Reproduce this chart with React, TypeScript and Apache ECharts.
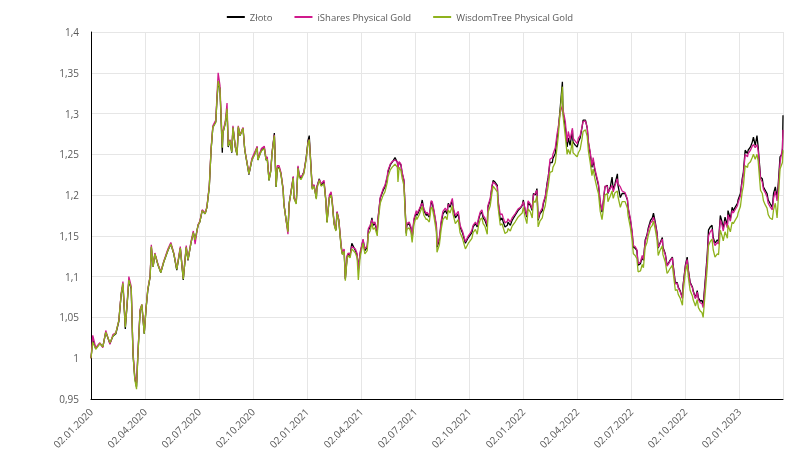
import React, { useEffect, useRef } from 'react';
import * as echarts from 'echarts';

const SERIES_NAMES = ['Złoto', 'iShares Physical Gold', 'WisdomTree Physical Gold'];
const SERIES_COLORS = ['#000000', '#d0198c', '#8fb21d'];

const QUARTER_LABELS = [
  '02.01.2020', '02.04.2020', '02.07.2020', '02.10.2020',
  '02.01.2021', '02.04.2021', '02.07.2021', '02.10.2021',
  '02.01.2022', '02.04.2022', '02.07.2022', '02.10.2022',
  '02.01.2023',
];
// days from 02.01.2020 to 02.01.2023 split in 12 quarters
const QUARTER_DAYS = 1096 / 12;

const Y_MIN = 0.95;
const Y_MAX = 1.4;
const Y_STEP = 0.05;

// days since 02.01.2020
const DAYS = [
  0,3,8,15,20,25,32,37,42,47,
  51,54,58,61,64,68,71,74,77,79,
  83,86,90,93,96,100,102,105,108,113,
  118,123,130,135,140,145,151,156,161,164,
  169,173,176,181,184,188,193,196,200,203,
  206,211,213,215,218,222,223,227,230,232,
  235,238,240,244,247,249,252,257,260,266,
  267,272,277,281,282,288,293,296,298,301,
  304,306,310,313,315,318,321,325,326,330,
  333,335,338,342,343,347,350,352,355,359,
  360,364,367,369,372,374,377,381,382,386,
  389,394,397,399,403,406,408,411,414,416,
  419,423,425,428,430,433,435,438,441,447,
  450,452,455,460,463,467,469,472,475,477,
  480,484,485,489,494,497,501,502,506,509,
  514,518,519,521,524,526,529,533,534,538,
  541,543,546,550,551,555,558,560,563,567,
  568,572,575,577,580,584,585,589,592,595,
  599,602,604,607,611,612,616,621,624,628,
  633,638,641,644,646,650,653,655,658,661,
  663,666,670,671,675,678,680,683,687,688,
  692,695,697,700,704,705,709,712,717,722,
  726,729,731,734,737,739,743,746,748,751,
  754,756,759,763,765,768,771,773,776,780,
  781,785,788,790,793,797,798,802,805,807,
  810,814,815,819,822,824,827,830,832,836,
  839,841,844,847,849,852,856,858,861,864,
  866,869,873,874,878,881,883,886,890,891,
  895,898,903,907,908,912,915,917,920,923,
  925,929,932,934,937,940,942,946,949,951,
  954,957,959,962,966,967,971,974,976,979,
  983,984,988,991,993,996,1000,1001,1005,1008,
  1010,1013,1017,1018,1022,1025,1027,1030,1033,1035,
  1039,1042,1044,1047,1050,1052,1055,1059,1061,1064,
  1067,1069,1072,1076,1077,1081,1084,1086,1089,1093,
  1094,1098,1101,1103,1106,1110,1111,1115,1118,1120,
  1123,1126,1128,1132,1135,1137,1140,1143,1145,1148,
  1152,1154,1157,1160,1162,1165,1169,1170,
];

const ZLOTO = [
  1.000,1.022,1.012,1.018,1.014,1.032,1.018,1.027,1.030,1.045,
  1.078,1.090,1.036,1.065,1.095,1.085,1.005,0.976,0.965,1.000,
  1.058,1.065,1.030,1.060,1.083,1.100,1.136,1.112,1.128,1.115,
  1.105,1.118,1.132,1.140,1.128,1.108,1.135,1.096,1.136,1.120,
  1.141,1.154,1.145,1.163,1.167,1.181,1.177,1.185,1.210,1.255,
  1.283,1.290,1.318,1.337,1.331,1.252,1.276,1.288,1.305,1.259,
  1.267,1.252,1.283,1.259,1.249,1.283,1.273,1.282,1.255,1.230,
  1.225,1.243,1.251,1.259,1.243,1.255,1.258,1.243,1.245,1.218,
  1.230,1.251,1.276,1.210,1.233,1.234,1.227,1.206,1.190,1.169,
  1.156,1.190,1.203,1.222,1.197,1.190,1.234,1.224,1.220,1.227,
  1.228,1.247,1.267,1.273,1.234,1.208,1.212,1.196,1.210,1.220,
  1.212,1.216,1.194,1.167,1.197,1.202,1.190,1.165,1.157,1.179,
  1.169,1.136,1.128,1.132,1.097,1.124,1.128,1.126,1.141,1.132,
  1.126,1.110,1.128,1.145,1.132,1.136,1.157,1.161,1.172,1.163,
  1.165,1.154,1.169,1.196,1.206,1.210,1.222,1.228,1.237,1.240,
  1.246,1.240,1.235,1.240,1.237,1.227,1.218,1.153,1.163,1.165,
  1.159,1.147,1.169,1.179,1.175,1.181,1.187,1.194,1.181,1.175,
  1.177,1.173,1.191,1.190,1.179,1.161,1.136,1.145,1.165,1.177,
  1.181,1.177,1.190,1.185,1.194,1.184,1.172,1.177,1.161,1.154,
  1.141,1.148,1.151,1.154,1.161,1.165,1.161,1.169,1.177,1.179,
  1.172,1.169,1.161,1.185,1.194,1.210,1.218,1.216,1.212,1.194,
  1.169,1.172,1.167,1.161,1.163,1.167,1.163,1.169,1.175,1.181,
  1.184,1.187,1.194,1.181,1.173,1.191,1.187,1.181,1.202,1.200,
  1.208,1.169,1.177,1.181,1.190,1.197,1.214,1.222,1.240,1.240,
  1.245,1.251,1.270,1.280,1.304,1.339,1.302,1.283,1.259,1.270,
  1.261,1.280,1.265,1.261,1.259,1.265,1.270,1.282,1.292,1.292,
  1.282,1.264,1.251,1.234,1.243,1.230,1.218,1.212,1.190,1.179,
  1.190,1.210,1.212,1.202,1.210,1.222,1.206,1.214,1.226,1.212,
  1.197,1.202,1.202,1.194,1.184,1.169,1.153,1.136,1.135,1.132,
  1.114,1.116,1.124,1.120,1.145,1.151,1.159,1.169,1.172,1.178,
  1.167,1.154,1.135,1.141,1.148,1.136,1.128,1.114,1.116,1.120,
  1.124,1.116,1.092,1.093,1.087,1.083,1.074,1.089,1.114,1.124,
  1.108,1.093,1.087,1.083,1.074,1.083,1.074,1.070,1.071,1.065,
  1.100,1.128,1.157,1.161,1.163,1.148,1.141,1.145,1.143,1.175,
  1.167,1.159,1.173,1.163,1.181,1.171,1.185,1.181,1.185,1.190,
  1.194,1.202,1.220,1.228,1.255,1.251,1.255,1.259,1.265,1.271,
  1.261,1.273,1.259,1.222,1.220,1.210,1.206,1.202,1.194,1.190,
  1.185,1.202,1.210,1.197,1.214,1.247,1.251,1.298,
];

const ISHARES = [
  1.000,1.028,1.013,1.019,1.013,1.034,1.017,1.029,1.031,1.046,
  1.080,1.094,1.040,1.067,1.100,1.088,1.008,0.978,0.970,1.002,
  1.060,1.066,1.032,1.061,1.085,1.101,1.139,1.113,1.129,1.116,
  1.106,1.119,1.134,1.142,1.129,1.110,1.137,1.098,1.138,1.121,
  1.143,1.156,1.140,1.164,1.168,1.182,1.178,1.186,1.212,1.257,
  1.285,1.292,1.322,1.350,1.335,1.262,1.278,1.290,1.313,1.262,
  1.268,1.255,1.285,1.260,1.250,1.285,1.274,1.283,1.256,1.231,
  1.226,1.245,1.253,1.260,1.245,1.257,1.260,1.245,1.247,1.220,
  1.231,1.252,1.274,1.212,1.236,1.236,1.228,1.207,1.190,1.168,
  1.152,1.188,1.204,1.223,1.198,1.191,1.236,1.225,1.222,1.226,
  1.229,1.246,1.265,1.268,1.235,1.210,1.213,1.198,1.211,1.219,
  1.214,1.218,1.195,1.168,1.200,1.204,1.192,1.166,1.158,1.180,
  1.170,1.138,1.130,1.134,1.098,1.126,1.129,1.127,1.137,1.134,
  1.128,1.108,1.130,1.146,1.134,1.138,1.159,1.163,1.170,1.165,
  1.167,1.156,1.170,1.197,1.208,1.212,1.224,1.230,1.238,1.241,
  1.243,1.241,1.232,1.241,1.238,1.228,1.219,1.155,1.165,1.167,
  1.161,1.149,1.171,1.181,1.177,1.183,1.188,1.190,1.183,1.177,
  1.179,1.175,1.193,1.192,1.181,1.163,1.138,1.148,1.168,1.180,
  1.184,1.180,1.188,1.188,1.196,1.186,1.175,1.180,1.163,1.156,
  1.143,1.150,1.153,1.157,1.163,1.167,1.163,1.171,1.179,1.182,
  1.175,1.172,1.164,1.187,1.196,1.212,1.216,1.214,1.210,1.195,
  1.176,1.177,1.172,1.166,1.168,1.171,1.167,1.172,1.177,1.183,
  1.185,1.188,1.192,1.183,1.175,1.193,1.189,1.183,1.200,1.202,
  1.206,1.171,1.179,1.184,1.192,1.198,1.212,1.220,1.244,1.246,
  1.250,1.258,1.275,1.283,1.300,1.310,1.305,1.290,1.265,1.278,
  1.268,1.282,1.270,1.266,1.263,1.270,1.273,1.283,1.290,1.291,
  1.283,1.266,1.253,1.236,1.246,1.232,1.220,1.214,1.192,1.181,
  1.192,1.211,1.211,1.203,1.208,1.212,1.204,1.212,1.220,1.214,
  1.210,1.205,1.203,1.195,1.186,1.171,1.155,1.138,1.137,1.133,
  1.116,1.118,1.126,1.121,1.143,1.150,1.157,1.166,1.168,1.173,
  1.165,1.153,1.136,1.140,1.146,1.135,1.127,1.113,1.115,1.119,
  1.123,1.115,1.091,1.092,1.086,1.082,1.073,1.088,1.113,1.121,
  1.107,1.092,1.086,1.082,1.073,1.081,1.072,1.068,1.067,1.062,
  1.096,1.124,1.150,1.155,1.158,1.145,1.138,1.142,1.140,1.170,
  1.163,1.156,1.168,1.160,1.176,1.168,1.181,1.178,1.182,1.187,
  1.191,1.199,1.217,1.225,1.250,1.247,1.251,1.255,1.260,1.262,
  1.258,1.262,1.255,1.220,1.216,1.207,1.203,1.198,1.190,1.186,
  1.182,1.196,1.205,1.193,1.210,1.240,1.258,1.280,
];

const WISDOMTREE = [
  1.000,1.020,1.011,1.018,1.014,1.032,1.019,1.027,1.031,1.046,
  1.078,1.092,1.038,1.066,1.096,1.086,1.005,0.974,0.962,0.998,
  1.058,1.066,1.030,1.060,1.084,1.100,1.137,1.112,1.128,1.115,
  1.105,1.118,1.132,1.140,1.128,1.109,1.135,1.097,1.136,1.121,
  1.141,1.154,1.145,1.163,1.167,1.181,1.177,1.185,1.210,1.255,
  1.283,1.289,1.318,1.340,1.330,1.258,1.276,1.288,1.306,1.260,
  1.267,1.253,1.283,1.259,1.249,1.284,1.273,1.282,1.255,1.230,
  1.226,1.243,1.250,1.258,1.243,1.254,1.257,1.243,1.244,1.218,
  1.229,1.250,1.273,1.210,1.233,1.233,1.226,1.205,1.189,1.169,
  1.155,1.190,1.202,1.221,1.196,1.189,1.233,1.222,1.219,1.225,
  1.226,1.245,1.264,1.268,1.232,1.207,1.211,1.195,1.208,1.218,
  1.211,1.214,1.193,1.166,1.196,1.200,1.189,1.164,1.156,1.178,
  1.168,1.135,1.127,1.131,1.095,1.122,1.126,1.123,1.134,1.129,
  1.123,1.096,1.124,1.141,1.128,1.132,1.152,1.156,1.166,1.158,
  1.160,1.150,1.164,1.190,1.200,1.204,1.216,1.222,1.231,1.234,
  1.238,1.234,1.216,1.234,1.230,1.221,1.212,1.150,1.158,1.160,
  1.154,1.142,1.164,1.174,1.170,1.176,1.182,1.186,1.175,1.170,
  1.171,1.167,1.185,1.184,1.173,1.155,1.130,1.139,1.158,1.170,
  1.174,1.170,1.182,1.178,1.187,1.177,1.165,1.170,1.154,1.147,
  1.134,1.141,1.144,1.147,1.154,1.158,1.152,1.162,1.170,1.172,
  1.165,1.162,1.152,1.178,1.187,1.203,1.211,1.208,1.204,1.187,
  1.163,1.165,1.160,1.153,1.155,1.159,1.156,1.162,1.167,1.173,
  1.176,1.178,1.185,1.173,1.165,1.183,1.179,1.172,1.193,1.191,
  1.199,1.161,1.168,1.172,1.180,1.187,1.203,1.211,1.228,1.229,
  1.234,1.240,1.259,1.272,1.300,1.333,1.298,1.272,1.250,1.256,
  1.250,1.266,1.252,1.249,1.247,1.252,1.256,1.268,1.278,1.280,
  1.272,1.254,1.240,1.224,1.232,1.220,1.207,1.202,1.180,1.170,
  1.181,1.200,1.202,1.192,1.199,1.205,1.196,1.203,1.205,1.198,
  1.185,1.192,1.192,1.184,1.175,1.160,1.144,1.128,1.126,1.122,
  1.106,1.107,1.115,1.111,1.136,1.142,1.150,1.160,1.163,1.168,
  1.158,1.145,1.126,1.132,1.138,1.127,1.118,1.104,1.106,1.110,
  1.114,1.107,1.083,1.084,1.078,1.074,1.065,1.080,1.106,1.115,
  1.099,1.083,1.076,1.072,1.064,1.072,1.062,1.058,1.056,1.050,
  1.085,1.112,1.138,1.143,1.146,1.133,1.124,1.128,1.127,1.157,
  1.150,1.144,1.155,1.147,1.163,1.155,1.167,1.165,1.169,1.174,
  1.178,1.186,1.204,1.211,1.236,1.234,1.238,1.241,1.246,1.250,
  1.244,1.250,1.242,1.206,1.202,1.193,1.188,1.184,1.176,1.172,
  1.170,1.182,1.190,1.172,1.195,1.232,1.240,1.255,
];

const SERIES_VALUES = [ZLOTO, ISHARES, WISDOMTREE];

const FONT = '"Open Sans", "Noto Sans", sans-serif';
const LABEL_COLOR = '#595959';
const GRID_COLOR = '#e6e6e6';

export default function App() {
  const ref = useRef<HTMLDivElement>(null);

  useEffect(() => {
    if (!ref.current) return;
    const chart = echarts.init(ref.current, null, { renderer: 'svg' });
    const option = {
      animation: false,
      textStyle: { fontFamily: FONT },
      legend: {
        top: 7,
        left: 'center',
        icon: 'rect',
        itemWidth: 18,
        itemHeight: 2,
        itemGap: 22,
        textStyle: { fontSize: 9.5, color: LABEL_COLOR, fontFamily: FONT },
        data: SERIES_NAMES,
      },
      grid: { left: 91, right: 17, top: 32, bottom: 63, containLabel: false, outerBoundsMode: 'none' },
      xAxis: {
        type: 'value',
        min: 0,
        max: DAYS[DAYS.length - 1],
        interval: QUARTER_DAYS,
        axisLine: { show: true, onZero: false, lineStyle: { color: '#000', width: 1 } },
        axisTick: { show: false },
        splitLine: { show: true, lineStyle: { color: GRID_COLOR, width: 1 } },
        axisLabel: {
          rotate: 45,
          fontSize: 10,
          color: LABEL_COLOR,
          fontFamily: FONT,
          margin: 11,
          showMaxLabel: false,
          formatter: (v: number) => {
            const k = Math.round(v / QUARTER_DAYS);
            if (Math.abs(v - k * QUARTER_DAYS) > 1) return '';
            return QUARTER_LABELS[k] ?? '';
          },
        },
      },
      yAxis: {
        type: 'value',
        min: Y_MIN,
        max: Y_MAX,
        interval: Y_STEP,
        axisLine: { show: true, onZero: false, lineStyle: { color: '#000', width: 1 } },
        axisTick: { show: false },
        splitLine: { show: true, lineStyle: { color: GRID_COLOR, width: 1 } },
        axisLabel: {
          fontSize: 10,
          color: LABEL_COLOR,
          fontFamily: FONT,
          margin: 12,
          formatter: (v: number) => String(Math.round(v * 100) / 100).replace('.', ','),
        },
      },
      series: SERIES_NAMES.map((name, si) => ({
        name,
        type: 'line',
        showSymbol: false,
        symbol: 'none',
        color: SERIES_COLORS[si],
        lineStyle: { width: 1.3, color: SERIES_COLORS[si] },
        data: DAYS.map((d, i) => [d, SERIES_VALUES[si][i]]),
      })),
    };
    chart.setOption(option as any);
    return () => chart.dispose();
  }, []);

  return (
    <div
      ref={ref}
      style={{ position: 'fixed', left: 0, top: 0, width: 800, height: 462 }}
    />
  );
}
